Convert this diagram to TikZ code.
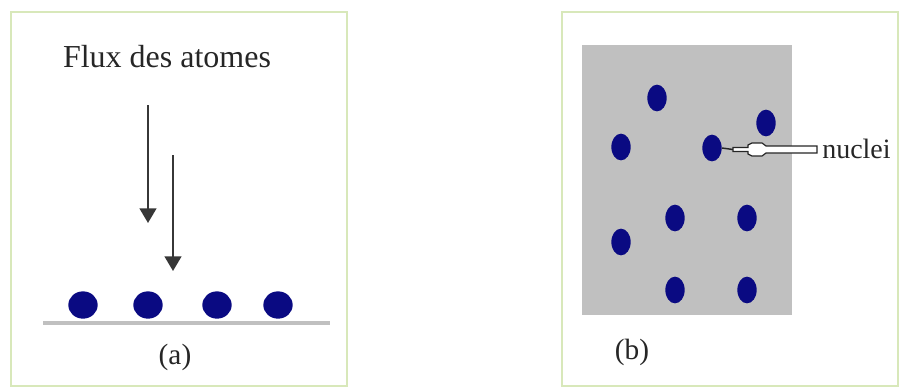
\documentclass[tikz,border=0pt]{standalone}
\usepackage{fontspec}
\setmainfont{Liberation Serif}
\usepackage{xcolor}
\usetikzlibrary{arrows.meta,shapes.geometric}

\definecolor{framegreen}{RGB}{216,232,186}
\definecolor{nucleusblue}{RGB}{10,10,130}
\definecolor{substrate}{RGB}{192,192,192}
\definecolor{fluxgray}{RGB}{55,55,55}

\begin{document}
\begin{tikzpicture}[
  x=0.75pt,y=-0.75pt,
  panel/.style={draw=framegreen,line width=2.2pt},
  atomA/.style={ellipse,fill=nucleusblue,inner sep=0pt,minimum width=22pt,minimum height=20.5pt},
  atomB/.style={ellipse,fill=nucleusblue,inner sep=0pt,minimum width=14.5pt,minimum height=20pt},
  txt/.style={font=\fontsize{21}{25}\selectfont,inner sep=0pt,text=black!85},
  flux/.style={draw=fluxgray,line width=1.8pt,-{Triangle[length=11pt,width=12.5pt]}},
  callout/.style={draw=black!85,line width=0.9pt,fill=white}]
\useasboundingbox (0,0) rectangle (902,390);
% panel (a)
\draw[panel] (11,12) rectangle (347,386);
\node[txt,font=\fontsize{24}{28}\selectfont] (fluxlabel) at (167,57) {Flux des atomes};
\coordinate (f1s) at (148,105);
\coordinate (f1e) at (148,223);
\coordinate (f2s) at (173,155);
\coordinate (f2e) at (173,271);
\draw[flux] (f1s) -- (f1e);
\draw[flux] (f2s) -- (f2e);
\draw[substrate,line width=3pt] (43,323) -- (330,323);
\foreach \x [count=\i] in {83,148,217,278}
  \node[atomA] (a\i) at (\x,305) {};
\node[txt,font=\fontsize{22}{26}\selectfont] (capa) at (175,357) {(a)};
% panel (b)
\draw[panel] (562,12) rectangle (898,386);
\fill[substrate] (582,45) rectangle (792,315);
\foreach \x/\y [count=\i] in {657/98,766/123,621/147,712/148,675/218,747/218,621/242,675/290,747/290}
  \node[atomB] (b\i) at (\x,\y) {};
\node[txt,anchor=west] (nuclei) at (822,149) {nuclei};
\coordinate (ptr) at (733,149.5);
\draw[black!85,line width=1.1pt] (b4.east) -- (ptr);
\draw[callout] (ptr) ++(0,-2) -- ++(15,0) -- ++(0,-2.5) -- ++(4,-2) -- ++(10,0) -- ++(4,3) -- ++(51,0)
  -- ++(0,7) -- ++(-51,0) -- ++(-4,3) -- ++(-10,0) -- ++(-4,-2) -- ++(0,-2.5) -- ++(-15,0) -- cycle;
\node[txt,font=\fontsize{22}{26}\selectfont] (capb) at (632,352) {(b)};
\end{tikzpicture}
\end{document}
